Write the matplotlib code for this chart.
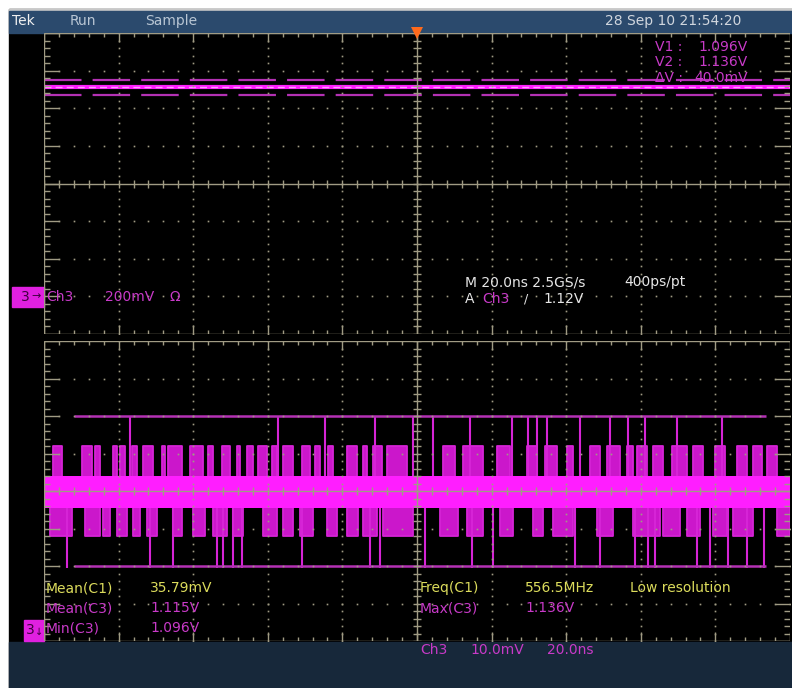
"""
Tek scope capture redrawn with matplotlib.

Two graticules: the main Ch3 window (200 mV/div) on top and the
zoomed Ch3 window (10 mV/div, 20 ns/div) below, plus the readouts.
"""

import matplotlib
matplotlib.use("Agg")
import matplotlib.pyplot as plt
from matplotlib.collections import LineCollection
from matplotlib.patches import Rectangle

W, H = 792, 688

# ── Colours ───────────────────────────────────────────────────
SCREEN    = "#000000"
HEADER    = "#2b4a6d"
FOOTER    = "#17283a"
GRID      = "#a09b84"
TRACE     = "#ff1eff"
TRACE_DIM = "#d624d6"
CURSOR    = "#b431b4"
MAGENTA   = "#c83ac8"
YELLOW    = "#dcdc5c"
WHITE     = "#e6e6e6"
ORANGE    = "#ff6a1c"

# ── Lower window data (t in ns, v in mV) ──────────────────────
band_hi, band_lo = 4.0, -4.5          # dense toggling band
pulse_hi, pulse_lo = 12.0, -12.0      # common excursion levels
v2_level, v1_level = 20.0, -20.0      # cursor levels (1.136 V / 1.096 V)
cursor_span = (8.0, 193.5)

up_bursts = [
    (2.4, 4.8), (10.2, 12.9), (13.7, 15.0), (18.5, 19.6), (20.4, 21.7),
    (23.6, 24.9), (26.5, 29.2), (31.6, 32.4), (33.2, 37.0), (39.1, 42.6),
    (44.0, 45.3), (47.7, 49.9), (51.7, 52.5), (54.4, 56.0), (57.4, 59.8),
    (61.1, 62.5), (64.1, 66.8), (69.2, 71.3), (72.7, 74.0), (76.1, 77.5),
    (81.2, 83.9), (85.5, 86.6), (88.2, 90.6), (92.0, 97.3), (107.0, 110.2),
    (112.3, 117.7), (121.4, 124.9), (129.5, 132.2), (134.3, 137.5),
    (140.2, 141.8), (146.4, 149.1), (150.9, 154.4), (156.3, 157.9),
    (159.0, 161.7), (163.3, 166.0), (168.4, 172.4), (174.0, 176.7),
    (179.9, 182.6), (185.8, 188.5), (190.1, 192.5), (193.8, 196.5),
]

down_bursts = [
    (1.6, 7.5), (11.0, 15.0), (15.8, 17.7), (19.6, 22.3), (23.9, 25.7),
    (27.6, 30.3), (34.6, 37.0), (39.9, 43.2), (45.3, 49.1), (50.7, 53.4),
    (58.7, 62.5), (64.1, 66.8), (68.6, 72.1), (75.9, 78.5), (81.2, 84.2),
    (85.5, 89.3), (90.9, 98.9), (106.2, 111.0), (113.4, 117.7),
    (122.3, 125.7), (131.1, 133.8), (136.5, 141.8), (148.3, 152.5),
    (157.9, 165.2), (166.0, 170.5), (172.4, 175.9), (179.4, 183.1),
    (184.7, 190.1), (196.5, 200.0),
]

# edges that run all the way out to the cursor levels
spikes_to_v2 = [23.1, 62.7, 75.3, 88.7, 98.9, 104.3, 114.2, 125.5, 129.8,
                132.2, 134.9, 143.7, 151.8, 156.6, 161.1, 169.7, 181.8]
spikes_to_v1 = [6.2, 28.4, 34.6, 46.4, 48.0, 50.7, 53.1, 69.2, 87.4, 90.1,
                102.1, 114.7, 120.4, 142.4, 149.1, 158.4, 161.9, 163.8,
                175.1, 178.6, 183.4, 188.5, 193.0]

# ── Upper window data (divisions, 200 mV/div) ─────────────────
upper_level = 2.57
upper_env_hi, upper_env_lo = 2.75, 2.36
trigger_div = 5.0

# ── Text ──────────────────────────────────────────────────────
header_items = [("Tek", 12, "#f0f0f0"), ("Run", 70, "#b9c6d4"), ("Sample", 145, "#b9c6d4")]
timestamp    = "28 Sep 10 21:54:20"
cursor_rows  = [("V1 :", "1.096V"), ("V2 :", "1.136V"), ("ΔV :", "40.0mV")]
meas_left    = [("Mean(C1)", "35.79mV", YELLOW), ("Mean(C3)", "1.115V", MAGENTA),
                ("Min(C3)", "1.096V", MAGENTA)]
meas_right   = [("Freq(C1)", "556.5MHz", YELLOW), ("Max(C3)", "1.136V", MAGENTA)]


def px(x, y):
    return x / W, 1 - y / H


def panel(x0, y0, x1, y1):
    l, t = px(x0, y0)
    r, b = px(x1, y1)
    ax = fig.add_axes([l, b, r - l, t - b])
    ax.set_facecolor("none")
    ax.set_axis_off()
    return ax


def draw_graticule(ax, dx, dy, nx=10, ny=8):
    """Dotted divisions, centre cross and edge ticks, Tek style."""
    x0, x1 = 0.0, nx * dx
    y0, y1 = -ny / 2 * dy, ny / 2 * dy
    ax.set_xlim(x0, x1)
    ax.set_ylim(y0, y1)
    bb = ax.get_position()
    sx = (x1 - x0) / (bb.width * W)     # data units per pixel
    sy = (y1 - y0) / (bb.height * H)
    fx = [x0 + i * dx / 5 for i in range(nx * 5 + 1)]
    fy = [y0 + j * dy / 5 for j in range(ny * 5 + 1)]
    xc, yc = x0 + nx / 2 * dx, 0.0

    # dotted division lines
    dots_x, dots_y = [], []
    for i in range(1, nx):
        if i == nx // 2:
            continue
        dots_x += [x0 + i * dx] * len(fy)
        dots_y += fy
    for j in range(1, ny):
        if j == ny // 2:
            continue
        dots_x += fx
        dots_y += [y0 + j * dy] * len(fx)
    ax.plot(dots_x, dots_y, ls="none", marker="s", ms=1.2, mew=0,
            color=GRID, zorder=5)

    segs = [[(xc, y0), (xc, y1)], [(x0, yc), (x1, yc)],
            [(x0, y0), (x0, y1)], [(x0, y0), (x1, y0)], [(x0, y1), (x1, y1)]]
    for k, y in enumerate(fy):
        major = k % 5 == 0
        segs.append([(xc - 4 * sx, y), (xc + 4 * sx, y)])
        segs.append([(x0, y), (x0 + (15 if major else 6) * sx, y)])
        segs.append([(x1, y), (x1 - (15 if major else 6) * sx, y)])
    for k, x in enumerate(fx):
        major = k % 5 == 0
        segs.append([(x, yc - 4 * sy), (x, yc + 4 * sy)])
        segs.append([(x, y0), (x, y0 + (9 if major else 4) * sy)])
        segs.append([(x, y1), (x, y1 - (9 if major else 4) * sy)])
    ax.add_collection(LineCollection(segs, colors=GRID, linewidths=1.0,
                                     zorder=6))


fig = plt.figure(figsize=(W / 100, H / 100), dpi=100, facecolor="white")

# ── Screen frame ──────────────────────────────────────────────
screen = fig.add_axes([0, 0, 1, 1], zorder=-5)
screen.set_xlim(0, W)
screen.set_ylim(H, 0)
screen.set_axis_off()
screen.add_patch(Rectangle((9, 9), W - 9, H - 9, color=SCREEN))
screen.add_patch(Rectangle((9, 9), W - 9, 1.5, color="#c8c8c8"))
screen.add_patch(Rectangle((9, 10.5), W - 9, 22, color=HEADER))
screen.add_patch(Rectangle((9, 642), W - 9, H - 642, color=FOOTER))

# ── Upper window ──────────────────────────────────────────────
ax_up = panel(44, 33, 790, 334)
draw_graticule(ax_up, 1.0, 1.0)
plt.rcParams["lines.scale_dashes"] = False
ax_up.plot([0, 10], [upper_env_hi] * 2, color=CURSOR, lw=1.6,
           dashes=(27, 8), zorder=3)
ax_up.plot([0, 10], [upper_env_lo] * 2, color=CURSOR, lw=1.6,
           dashes=(27, 8), dash_capstyle="butt", zorder=3)
ax_up.plot([0, 10], [upper_level] * 2, color=TRACE, lw=3.0, zorder=4)
ax_up.plot([0, 10], [upper_level] * 2, color="#ff9cff", lw=1.0,
           dashes=(5, 3), zorder=4)
ax_up.plot(trigger_div, 4.0, marker="v", ms=9, color=ORANGE, mew=0,
           clip_on=False, zorder=8)

# ── Lower (zoom) window ───────────────────────────────────────
ax_lo = panel(44, 341, 790, 641)
draw_graticule(ax_lo, 20.0, 10.0)

ax_lo.fill_between([0, 200], band_lo, band_hi, color=TRACE, lw=0, zorder=2)

for bursts, base, level in ((up_bursts, band_hi, pulse_hi),
                            (down_bursts, band_lo, pulse_lo)):
    ax_lo.bar([b[0] for b in bursts], level - base,
              width=[b[1] - b[0] for b in bursts], bottom=base,
              align="edge", color=TRACE, alpha=0.8, lw=0, zorder=2)
    outline = [[(t0, base), (t0, level), (t1, level), (t1, base)]
               for t0, t1 in bursts]
    ax_lo.add_collection(LineCollection(outline, colors=TRACE_DIM,
                                        linewidths=1.3, zorder=3))

ax_lo.vlines(spikes_to_v2, band_hi, v2_level, color=TRACE_DIM, lw=1.5, zorder=3)
ax_lo.vlines(spikes_to_v1, v1_level - 0.6, band_lo, color=TRACE_DIM, lw=1.5,
             zorder=3)
ax_lo.hlines([v2_level, v1_level], *cursor_span, color=CURSOR, lw=1.8, zorder=3)

# ── Readouts ──────────────────────────────────────────────────
FS = 10
for label, x, col in header_items:
    fig.text(*px(x, 21), label, color=col, fontsize=FS, va="center")
fig.text(*px(741, 21), timestamp, color="#d0d6de", fontsize=FS,
         va="center", ha="right")

for k, (name, val) in enumerate(cursor_rows):
    y = 47 + 15.5 * k
    fig.text(*px(655, y), name, color=MAGENTA, fontsize=FS, va="center")
    fig.text(*px(748, y), val, color=MAGENTA, fontsize=FS, va="center",
             ha="right")

fig.text(*px(465, 282), "M 20.0ns 2.5GS/s", color=WHITE, fontsize=FS, va="center")
fig.text(*px(624, 282), "400ps/pt", color=WHITE, fontsize=FS, va="center")
fig.text(*px(465, 299), "A", color=WHITE, fontsize=FS, va="center")
fig.text(*px(482, 299), "Ch3", color=MAGENTA, fontsize=FS, va="center")
fig.text(*px(524, 299), "/", color=WHITE, fontsize=FS - 1, va="center")
fig.text(*px(543, 299), "1.12V", color=WHITE, fontsize=FS, va="center")

# Ch3 offset marker and scale
screen.add_patch(Rectangle((12, 287), 32, 20, color="#e020e0"))
fig.text(*px(21, 297), "3", color="#400040", fontsize=FS, va="center")
fig.text(*px(31, 296), "→", color="#400040", fontsize=FS - 2, va="center")
fig.text(*px(46, 297), "Ch3", color=MAGENTA, fontsize=FS, va="center")
fig.text(*px(105, 297), "200mV", color=MAGENTA, fontsize=FS, va="center")
fig.text(*px(170, 297), "Ω", color=MAGENTA, fontsize=FS, va="center")

screen.add_patch(Rectangle((24, 620), 20, 21, color="#e020e0"))
fig.text(*px(26, 630), "3", color="#400040", fontsize=FS, va="center")
fig.text(*px(35, 632), "↓", color="#400040", fontsize=FS - 3, va="center")

for k, (name, val, col) in enumerate(meas_left):
    y = 588 + 20 * k
    fig.text(*px(46, y), name, color=col, fontsize=FS, va="center")
    fig.text(*px(150, y), val, color=col, fontsize=FS, va="center")
for k, (name, val, col) in enumerate(meas_right):
    y = 588 + 20 * k
    fig.text(*px(420, y), name, color=col, fontsize=FS, va="center")
    fig.text(*px(525, y), val, color=col, fontsize=FS, va="center")
fig.text(*px(630, 588), "Low resolution", color=YELLOW, fontsize=FS, va="center")

for label, x in (("Ch3", 420), ("10.0mV", 470), ("20.0ns", 547)):
    fig.text(*px(x, 650), label, color=MAGENTA, fontsize=FS, va="center")

fig.savefig("out.png", dpi=100, facecolor="white")
